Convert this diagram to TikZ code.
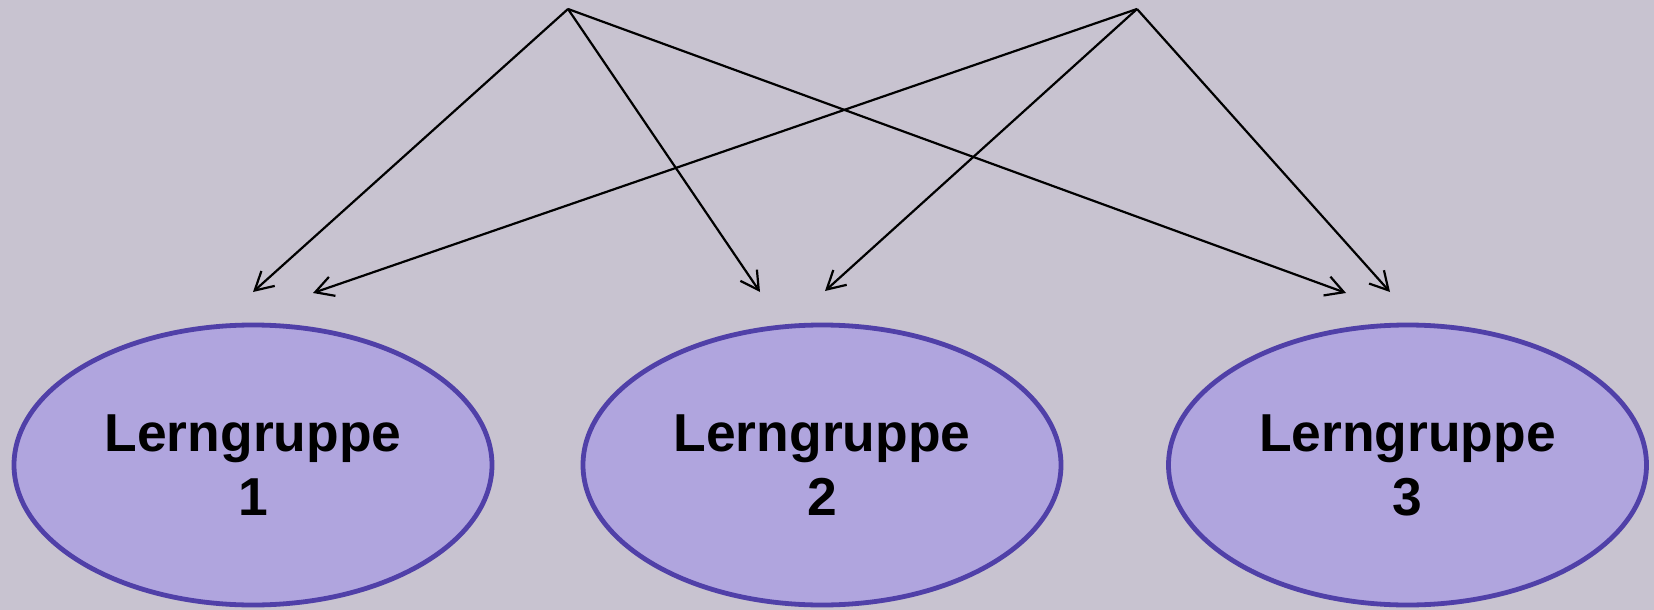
\documentclass[tikz,border=0pt]{standalone}
\usepackage{fontspec}
\setmainfont{Liberation Sans}
\usetikzlibrary{shapes.geometric,arrows.meta}
\definecolor{bgcol}{RGB}{200,195,208}
\definecolor{ellfill}{RGB}{176,165,222}
\definecolor{elldraw}{RGB}{80,64,168}
\tikzset{
  group/.style={ellipse, draw=elldraw, fill=ellfill, line width=2.4pt,
    minimum width=239pt, minimum height=140pt, inner sep=0pt, align=center,
    font=\fontsize{26.7}{32}\selectfont\bfseries},
  link/.style={line width=1.1pt, -{Straight Barb[length=9pt,width=10pt]}}
}
\begin{document}
\begin{tikzpicture}[x=0.5pt,y=-0.5pt]
\fill[bgcol] (0,0) rectangle (1654,610);
\node[group] (g1) at (253,465) {Lerngruppe\\1};
\node[group] (g2) at (822,465) {Lerngruppe\\2};
\node[group] (g3) at (1407.5,465) {Lerngruppe\\3};
\coordinate (s1) at (568,9);
\coordinate (s2) at (1137,9);
\coordinate (t11) at (253,292);
\coordinate (t12) at (313,293);
\coordinate (t21) at (760,292);
\coordinate (t22) at (825,291);
\coordinate (t31) at (1346,293);
\coordinate (t32) at (1390,292);
\draw[link] (s1) -- (t11);
\draw[link] (s1) -- (t21);
\draw[link] (s1) -- (t31);
\draw[link] (s2) -- (t12);
\draw[link] (s2) -- (t22);
\draw[link] (s2) -- (t32);
\end{tikzpicture}
\end{document}
